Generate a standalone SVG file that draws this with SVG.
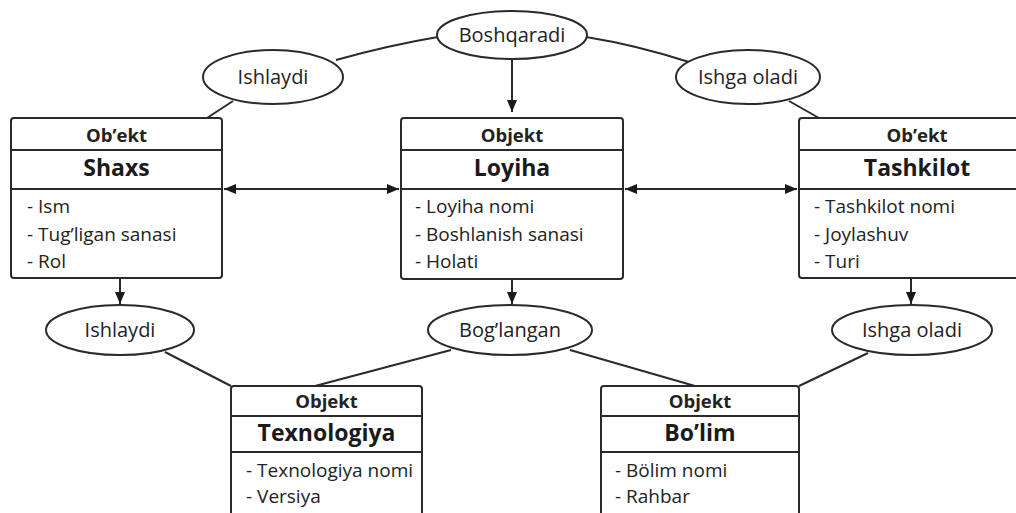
<svg xmlns="http://www.w3.org/2000/svg" width="1016" height="513" viewBox="0 0 1016 513">
  <style>
    .box { fill: #fff; stroke: #2a2a2a; stroke-width: 2; }
    .div { stroke: #2a2a2a; stroke-width: 2; }
    .ell { fill: #fff; stroke: #2a2a2a; stroke-width: 2; }
    .ln { fill: none; stroke: #2a2a2a; stroke-width: 2; }
    .hdr { font-family: "Open Sans", "Liberation Sans", sans-serif; font-weight: 700; font-size: 18.5px; fill: #222; text-anchor: middle; }
    .nm { font-family: "Open Sans", "Liberation Sans", sans-serif; font-weight: 700; font-size: 23px; fill: #1a1a1a; text-anchor: middle; }
    .at { font-family: "Open Sans", "Liberation Sans", sans-serif; font-size: 19px; fill: #222; }
    .el { font-family: "Open Sans", "Liberation Sans", sans-serif; font-size: 20px; fill: #222; text-anchor: middle; }
  </style>
  <defs>
    <marker id="ah" viewBox="0 0 12 10" refX="12" refY="5" markerWidth="12" markerHeight="10" markerUnits="userSpaceOnUse" orient="auto-start-reverse">
      <path d="M0,0 L12,5 L0,10 Z" fill="#1a1a1a"/>
    </marker>
  </defs>
  <rect width="1016" height="513" fill="#fff"/>

  <g id="connectors">
    <path class="ln" d="M438,37 Q390,45 336,60"/>
    <path class="ln" d="M586,37 Q636,45 689,62"/>
    <line class="ln" x1="233" y1="101" x2="207" y2="118"/>
    <line class="ln" x1="789" y1="101" x2="819" y2="118"/>
    <line class="ln" x1="512" y1="59" x2="512" y2="112" marker-end="url(#ah)"/>
    <line class="ln" x1="224" y1="189" x2="399" y2="189" marker-start="url(#ah)" marker-end="url(#ah)"/>
    <line class="ln" x1="625" y1="189" x2="797" y2="189" marker-start="url(#ah)" marker-end="url(#ah)"/>
    <line class="ln" x1="120" y1="279" x2="120" y2="304" marker-end="url(#ah)"/>
    <line class="ln" x1="512" y1="280" x2="512" y2="304" marker-end="url(#ah)"/>
    <line class="ln" x1="911" y1="279" x2="911" y2="304" marker-end="url(#ah)"/>
    <line class="ln" x1="165" y1="352" x2="231" y2="386"/>
    <line class="ln" x1="451" y1="350" x2="315" y2="386"/>
    <line class="ln" x1="570" y1="350" x2="695" y2="386"/>
    <line class="ln" x1="868" y1="353" x2="799" y2="386"/>
  </g>

  <g id="boshqaradi">
    <ellipse class="ell" cx="512" cy="35" rx="75" ry="24"/>
    <text class="el" x="512" y="42">Boshqaradi</text>
  </g>
  <g id="ishlaydi-top">
    <ellipse class="ell" cx="273" cy="77" rx="70" ry="27"/>
    <text class="el" x="273" y="84">Ishlaydi</text>
  </g>
  <g id="ishga-oladi-top">
    <ellipse class="ell" cx="748" cy="77" rx="72" ry="27"/>
    <text class="el" x="748" y="84">Ishga oladi</text>
  </g>

  <g id="shaxs">
    <rect class="box" x="11" y="118" width="211" height="160" rx="3"/>
    <line class="div" x1="11" y1="150" x2="222" y2="150"/>
    <line class="div" x1="11" y1="189" x2="222" y2="189"/>
    <text class="hdr" x="116.5" y="142">Ob’ekt</text>
    <text class="nm" x="116.5" y="176">Shaxs</text>
    <text class="at" x="27" y="213">- Ism</text>
    <text class="at" x="27" y="241">- Tug’ligan sanasi</text>
    <text class="at" x="27" y="268">- Rol</text>
  </g>

  <g id="loyiha">
    <rect class="box" x="401" y="118" width="222" height="161" rx="3"/>
    <line class="div" x1="401" y1="150" x2="623" y2="150"/>
    <line class="div" x1="401" y1="189" x2="623" y2="189"/>
    <text class="hdr" x="512" y="142">Objekt</text>
    <text class="nm" x="512" y="176">Loyiha</text>
    <text class="at" x="415" y="213">- Loyiha nomi</text>
    <text class="at" x="415" y="241">- Boshlanish sanasi</text>
    <text class="at" x="415" y="268">- Holati</text>
  </g>

  <g id="tashkilot">
    <rect class="box" x="799" y="118" width="236" height="160" rx="3"/>
    <line class="div" x1="799" y1="150" x2="1035" y2="150"/>
    <line class="div" x1="799" y1="189" x2="1035" y2="189"/>
    <text class="hdr" x="917" y="142">Ob’ekt</text>
    <text class="nm" x="917" y="176">Tashkilot</text>
    <text class="at" x="814" y="213">- Tashkilot nomi</text>
    <text class="at" x="814" y="241">- Joylashuv</text>
    <text class="at" x="814" y="268">- Turi</text>
  </g>

  <g id="ishlaydi-bottom">
    <ellipse class="ell" cx="120" cy="330" rx="74" ry="25"/>
    <text class="el" x="120" y="337">Ishlaydi</text>
  </g>
  <g id="boglangan">
    <ellipse class="ell" cx="510" cy="330" rx="82" ry="25"/>
    <text class="el" x="510" y="337">Bog’langan</text>
  </g>
  <g id="ishga-oladi-bottom">
    <ellipse class="ell" cx="912" cy="330" rx="80" ry="25"/>
    <text class="el" x="912" y="337">Ishga oladi</text>
  </g>

  <g id="texnologiya">
    <rect class="box" x="231" y="386" width="191" height="140" rx="3"/>
    <line class="div" x1="231" y1="416" x2="422" y2="416"/>
    <line class="div" x1="231" y1="452" x2="422" y2="452"/>
    <text class="hdr" x="326.5" y="408">Objekt</text>
    <text class="nm" x="326.5" y="441">Texnologiya</text>
    <text class="at" x="246" y="477">- Texnologiya nomi</text>
    <text class="at" x="246" y="503">- Versiya</text>
  </g>

  <g id="bolim">
    <rect class="box" x="601" y="386" width="198" height="140" rx="3"/>
    <line class="div" x1="601" y1="416" x2="799" y2="416"/>
    <line class="div" x1="601" y1="452" x2="799" y2="452"/>
    <text class="hdr" x="700" y="408">Objekt</text>
    <text class="nm" x="700" y="441">Bo’lim</text>
    <text class="at" x="615" y="477">- Bölim nomi</text>
    <text class="at" x="615" y="503">- Rahbar</text>
  </g>
</svg>
